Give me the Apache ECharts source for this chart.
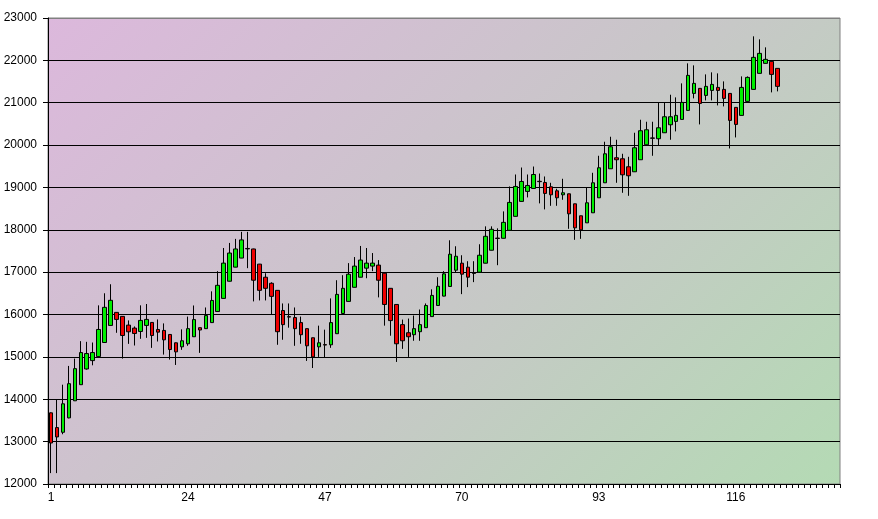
<!DOCTYPE html>
<html>
<head>
<meta charset="utf-8">
<script src="https://cdn.jsdelivr.net/npm/echarts@6/dist/echarts.min.js"></script>
<style>
html,body{margin:0;padding:0;background:#ffffff;}
#chart{width:878px;height:519px;}
</style>
</head>
<body>
<div id="chart"></div>
<script>
var categoryCount = 133;
var yTicks = [12000, 13000, 14000, 15000, 16000, 17000, 18000, 19000, 20000, 21000, 22000, 23000];

var opens = [13680,13332,13221,13561,13964,14344,14715,14913,15008,15340,15743,16051,15957,15751,15680,15601,15743,15814,15648,15625,
15530,15333,15238,15310,15476,15690,15667,15810,16071,16381,16786,17119,17333,17560,17548,17190,16881,16738,16571,16095,
15950,15929,15810,15667,15452,15238,15290,15286,15548,16024,16310,16643,16881,17095,17143,17167,16976,16619,16238,15762,
15571,15524,15595,15690,15952,16214,16435,16663,17047,17212,17118,16980,17000,17212,17518,17804,17800,17988,18318,18671,
18906,18976,19145,19118,19016,18921,18827,18850,18614,18331,18165,18402,18756,19110,19441,19701,19677,19488,19370,19654,
20008,20169,20150,20291,20480,20559,20606,20819,21220,21339,21173,21291,21362,21315,21220,20890,20701,21031,21315,21693,
21929,21976,21811];
var closes = [12968,13111,13893,14368,14723,15103,15079,15103,15648,16170,16336,15885,15506,15593,15553,15862,15885,15506,15585,15403,
15174,15119,15381,15667,15881,15635,15976,16333,16690,17214,17452,17548,17762,17550,16810,16571,16619,16429,15595,15762,
15940,15667,15524,15262,15000,15333,15280,15810,16476,16619,16952,17143,17286,17214,17214,16810,16238,15857,15310,15381,
15476,15667,15762,16214,16452,16667,16961,17424,17376,16953,16882,16972,17400,17847,18012,17796,18176,18647,19024,19141,
19047,19306,19137,18859,18827,18756,18874,18378,18047,18000,18638,19110,19465,19795,19961,19654,19299,19276,19937,20339,
20362,20161,20409,20669,20669,20701,21008,21646,21457,20984,21386,21433,21291,21102,20583,20488,21362,21598,22071,22165,
22024,21669,21386];
var lows = [12257,12257,13174,13550,13960,14340,14700,14802,15000,15335,15740,15569,14960,15308,15269,15427,15450,15213,15364,15055,
14937,14810,15167,15262,15470,15095,15660,15805,16065,16375,16780,17115,17330,17095,16310,16333,16333,16000,15286,15405,
15690,15262,15310,14905,14738,15000,14976,15214,15545,16020,16305,16640,16878,16857,17024,16405,15738,15500,14881,15190,
15000,15381,15381,15685,15950,16210,16430,16660,17000,16482,16647,16765,16995,17208,17515,17165,17796,17985,18315,18668,
18765,18973,18624,18482,18567,18567,18709,18024,17764,17787,18162,18400,18753,19107,19438,19110,18874,18803,19367,19651,
20005,19748,19984,20288,20126,20323,20603,20816,21102,20488,21055,21055,20937,20913,19921,20181,20698,21028,21312,21690,
21926,21244,21268];
var highs = [13690,13996,14344,14787,14960,15372,15356,15340,16217,16502,16715,16060,15960,15862,15719,16217,16249,15820,15885,15791,
15535,15340,15651,15952,16214,15695,16167,16548,17024,17571,17690,17786,17952,17952,17555,17195,16976,16762,16575,16262,
16262,16167,15952,15670,15455,15738,15643,16381,16810,16929,17214,17357,17619,17571,17452,17286,16980,16622,16240,15881,
15905,15976,16119,16262,16595,16881,17024,17753,17612,17400,17259,17259,17659,18082,18082,18035,18435,19024,19306,19471,
19306,19494,19329,19259,19110,18969,19205,18853,18617,18334,18992,19346,19748,20079,20197,20126,19795,19724,20291,20598,
20551,20551,21000,21000,21189,21126,21457,21929,21882,21342,21669,21717,21693,21504,21223,20893,21622,21622,22567,22496,
22307,21979,21814];

var categories = [];
for (var i = 1; i <= categoryCount; i++) categories.push(String(i));

var ohlc = [];
for (var j = 0; j < opens.length; j++) ohlc.push([opens[j], closes[j], lows[j], highs[j]]);

var splitColors = yTicks.map(function (v, k) { return k === yTicks.length - 1 ? '#808080' : '#000000'; });

var chart = echarts.init(document.getElementById('chart'), null, {renderer: 'canvas'});
chart.setOption({
  animation: false,
  backgroundColor: '#ffffff',
  textStyle: {fontFamily: 'Liberation Sans', color: '#000'},
  grid: {
    left: 48, right: 38, top: 18, bottom: 35,
    show: true,
    borderColor: '#808080',
    borderWidth: 1,
    backgroundColor: new echarts.graphic.LinearGradient(48, 18, 677, 647, [
      {offset: 0, color: '#dcb8dc'},
      {offset: 0.5, color: '#c9c6c9'},
      {offset: 1, color: '#b4dab4'}
    ], true)
  },
  xAxis: {
    type: 'category',
    data: categories,
    boundaryGap: true,
    axisLine: {show: true, lineStyle: {color: '#000', width: 1}},
    axisTick: {show: true, interval: 0, length: 4, lineStyle: {color: '#000'}},
    axisLabel: {interval: 22, margin: 8, color: '#000', fontSize: 12, fontFamily: 'Liberation Sans'},
    splitLine: {show: false}
  },
  yAxis: {
    type: 'value',
    min: 12000, max: 23000, interval: 1000,
    axisLine: {show: true, lineStyle: {color: '#000', width: 1}},
    axisTick: {show: true, length: 5, lineStyle: {color: '#000'}},
    axisLabel: {
      margin: 11, color: '#000', fontSize: 12, fontFamily: 'Liberation Sans',
      formatter: function (v) { return String(v); }
    },
    splitLine: {show: true, lineStyle: {color: splitColors, width: 1}}
  },
  series: [{
    type: 'candlestick',
    data: ohlc,
    barWidth: 4,
    itemStyle: {
      color: '#00ee00',
      color0: '#ee0000',
      borderColor: '#000000',
      borderColor0: '#000000',
      borderColorDoji: '#000000',
      borderWidth: 1
    }
  }]
});
</script>
</body>
</html>
